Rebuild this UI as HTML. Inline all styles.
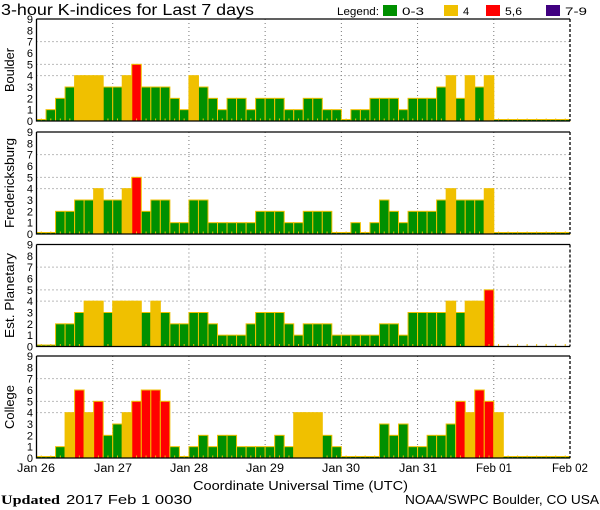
<!DOCTYPE html>
<html><head><meta charset="utf-8"><style>
html,body{margin:0;padding:0;background:#fff;width:600px;height:510px;overflow:hidden}
svg{display:block;font-family:"Liberation Sans",sans-serif}
</style></head><body>
<svg id="s" width="600" height="510" viewBox="0 0 600 510" xmlns="http://www.w3.org/2000/svg" xml:space="preserve">
<text x="1" y="15" font-size="16" fill="#000" textLength="253" lengthAdjust="spacingAndGlyphs">3-hour K-indices for Last 7 days</text>
<text x="337" y="15" font-size="11" textLength="42" lengthAdjust="spacingAndGlyphs">Legend:</text>
<rect x="383" y="5" width="14" height="11" fill="#009000"/><text x="402" y="15" font-size="11" textLength="22" lengthAdjust="spacingAndGlyphs">0-3</text>
<rect x="444" y="5" width="14" height="11" fill="#f0c000"/><text x="463" y="15" font-size="11">4</text>
<rect x="486" y="5" width="14" height="11" fill="#ff0000"/><text x="505" y="15" font-size="11" textLength="17" lengthAdjust="spacingAndGlyphs">5,6</text>
<rect x="546" y="5" width="14" height="11" fill="#400080"/><text x="565" y="15" font-size="11" textLength="22" lengthAdjust="spacingAndGlyphs">7-9</text>
<g id="g"></g>
<g font-size="11.5" text-anchor="middle">
<text x="36" y="472" textLength="38" lengthAdjust="spacingAndGlyphs">Jan 26</text><text x="113" y="472" textLength="38" lengthAdjust="spacingAndGlyphs">Jan 27</text><text x="189" y="472" textLength="38" lengthAdjust="spacingAndGlyphs">Jan 28</text><text x="265" y="472" textLength="38" lengthAdjust="spacingAndGlyphs">Jan 29</text><text x="341" y="472" textLength="38" lengthAdjust="spacingAndGlyphs">Jan 30</text><text x="418" y="472" textLength="38" lengthAdjust="spacingAndGlyphs">Jan 31</text><text x="494" y="472" textLength="36" lengthAdjust="spacingAndGlyphs">Feb 01</text><text x="570" y="472" textLength="36" lengthAdjust="spacingAndGlyphs">Feb 02</text>
</g>
<text x="193" y="490" font-size="13" textLength="215" lengthAdjust="spacingAndGlyphs">Coordinate Universal Time (UTC)</text>
<text x="1" y="504" font-size="13"><tspan font-family="Liberation Serif" font-weight="bold" textLength="59" lengthAdjust="spacingAndGlyphs">Updated</tspan><tspan x="66" textLength="126" lengthAdjust="spacingAndGlyphs">2017 Feb  1 0030</tspan></text>
<text x="405" y="504" font-size="13" textLength="194" lengthAdjust="spacingAndGlyphs">NOAA/SWPC Boulder, CO USA</text>
</svg>
<script>
var P=[
{n:"Boulder",top:19,d:[0,1,2,3,4,4,4,3,3,4,5,3,3,3,2,1,4,3,2,1,2,2,1,2,2,2,1,1,2,2,1,1,0,1,1,2,2,2,1,2,2,2,3,4,2,4,3,4],z:true,w:44},
{n:"Fredericksburg",top:132,d:[0,0,2,2,3,3,4,3,3,4,5,2,3,3,1,1,3,3,1,1,1,1,1,2,2,2,1,1,2,2,2,0,0,1,0,1,3,2,1,2,2,2,3,4,3,3,3,4],z:true,w:90},
{n:"Est. Planetary",top:244.5,d:[0,0,2,2,3,4,4,3,4,4,4,3,4,3,2,2,3,3,2,1,1,1,2,3,3,3,2,1,2,2,2,1,1,1,1,1,2,2,1,3,3,3,3,4,3,4,4,5],z:false,w:85},
{n:"College",top:356,d:[0,0,1,4,6,4,5,2,3,4,5,6,6,5,1,0,1,2,1,2,2,1,1,1,1,2,1,4,4,4,2,1,0,0,0,0,3,2,3,1,1,2,2,3,5,4,6,5,4],z:true,w:44}
];
var L=36.5,R=570,W=(R-L)/56,H=102,u=H/9,s="";
function col(v){return v<=3?"#009000":v==4?"#f0c000":v<=6?"#ff0000":"#400080";}
P.forEach(function(p){
 var t=p.top,b=t+H;
 [4,5,7].forEach(function(k){var y=b-k*u;s+='<line x1="'+L+'" x2="'+R+'" y1="'+y+'" y2="'+y+'" stroke="#777" stroke-dasharray="1,3"/>';});
 for(var d=1;d<7;d++){var x=L+d*8*W;s+='<line x1="'+x+'" x2="'+x+'" y1="'+t+'" y2="'+b+'" stroke="#777" stroke-dasharray="1,3"/>';}
 var n=p.d.length;
 for(var i=0;i<56;i++){
  var x=L+i*W;
  if(i<n){var v=p.d[i];var h=v==0?1.5:v*u;
   s+='<rect x="'+x+'" y="'+(b-h)+'" width="'+W+'" height="'+h+'" fill="'+col(v)+'" stroke="#f0c000" stroke-width="1"/>';}
  else if(p.z){s+='<rect x="'+x+'" y="'+(b-1.5)+'" width="'+W+'" height="1.5" fill="#009000" stroke="#f0c000" stroke-width="1"/>';}
  s+='<line x1="'+(x+W/2)+'" x2="'+(x+W/2)+'" y1="'+(b-2.5)+'" y2="'+b+'" stroke="#f0c000"/>';
 }
 s+='<path d="M'+L+' '+t+'H'+R+'M'+L+' '+t+'V'+b+'H'+R+'" stroke="#000" stroke-width="1.3" fill="none"/>';
 s+='<line x1="'+R+'" x2="'+R+'" y1="'+t+'" y2="'+b+'" stroke="#000" stroke-width="1.3" stroke-dasharray="3,2"/>';
 for(var k=0;k<=9;k++){s+='<text x="33" y="'+(b-k*u+4)+'" font-size="11" text-anchor="end">'+k+'</text>';}
 var cy=t+H/2;
 s+='<text x="0" y="0" font-size="13" text-anchor="middle" textLength="'+p.w+'" lengthAdjust="spacingAndGlyphs" transform="translate(14,'+cy+') rotate(-90)">'+p.n+'</text>';
});
document.getElementById("g").innerHTML=s;
</script>
</body></html>
